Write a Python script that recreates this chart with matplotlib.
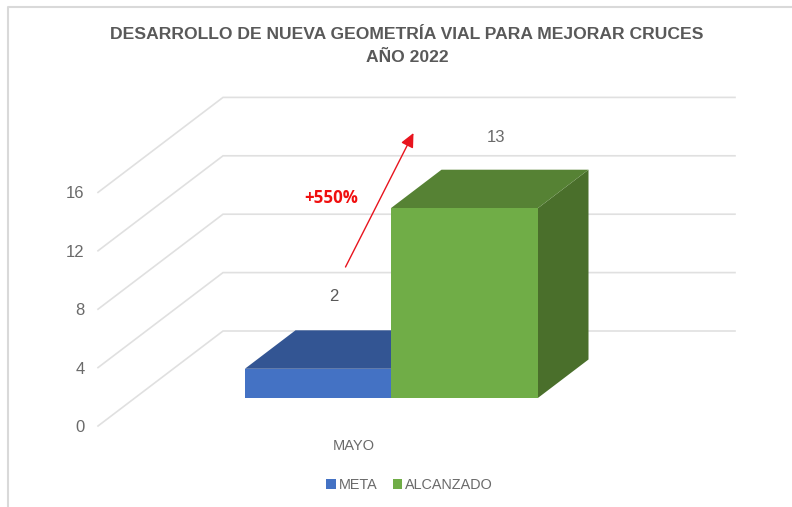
import matplotlib
matplotlib.use("Agg")
import matplotlib.pyplot as plt
from matplotlib.patches import Patch, Polygon
from matplotlib.lines import Line2D

title = "DESARROLLO DE NUEVA GEOMETRÍA VIAL PARA MEJORAR CRUCES\nAÑO 2022"
category = "MAYO"
series_names = ["META", "ALCANZADO"]
series_values = [2, 13]
y_ticks = [0, 4, 8, 12, 16]
note = "+550%"

front_colors = ["#4472C4", "#70AD47"]
top_colors = ["#335593", "#568234"]
side_colors = ["#2F5597", "#4A6F2B"]
text_color = "#6a6a6a"

plt.rcParams["font.family"] = ["Liberation Sans", "DejaVu Sans"]

fig = plt.figure(figsize=(7.92, 5.07), dpi=100)
ax = fig.add_axes([0, 0, 1, 1])

# x is in pixels, y is in chart values, so bars go through the y scale
px_per_unit = 14.6
ax.set_xlim(0, 792)
ax.set_ylim(-(507 - 426) / px_per_unit, 426 / px_per_unit)
for s in ax.spines.values():
    s.set_visible(False)
ax.set_xticks([])
ax.set_yticks(y_ticks)
ax.tick_params(axis="y", length=0, pad=-61, labelsize=12, labelcolor=text_color)

# oblique projection for depth
depth_x = 125
depth_y = 95 / px_per_unit


def project(x, v, d):
    return x + depth_x * d, v + depth_y * d


# gridlines: side wall + back wall
for t in y_ticks:
    x0, y0 = project(98, t, 0)
    x1, y1 = project(98, t, 1)
    ax.plot([x0, x1, 735], [y0, y1, y1], color="#e0e0e0", lw=1.2, zorder=1,
            solid_joinstyle="miter")

d_front = 0.295
d_back = 0.70
bar_left = [208, 354]
bar_right = [354, 501]

for i, val in enumerate(series_values):
    l, r = bar_left[i], bar_right[i]
    a = project(l, 0, d_front)
    b = project(r, 0, d_front)
    c = project(r, val, d_front)
    e = project(l, val, d_front)
    f = project(l, val, d_back)
    g = project(r, val, d_back)
    h = project(r, 0, d_back)
    z = 3 + i
    ax.add_patch(Polygon([b, h, g, c], closed=True, fc=side_colors[i], ec="none", zorder=z))
    ax.add_patch(Polygon([e, c, g, f], closed=True, fc=top_colors[i], ec="none", zorder=z))
    ax.add_patch(Polygon([a, b, c, e], closed=True, fc=front_colors[i], ec="none", zorder=z))

ax.text(334, (426 - 296.5) / px_per_unit, str(series_values[0]), ha="center", va="center",
        fontsize=12, color="#595959")
ax.text(496.5, (426 - 138) / px_per_unit, str(series_values[1]), ha="center", va="center",
        fontsize=12, color="#6a6a6a")

# red growth arrow and its label
ax.annotate("", xy=(413.5, (426 - 133) / px_per_unit), xytext=(345.5, (426 - 267) / px_per_unit),
            arrowprops=dict(arrowstyle="-|>,head_length=0.85,head_width=0.4", color="#e8141e",
                            lw=1, shrinkA=0, shrinkB=0), zorder=6)
ax.text(331, (426 - 198) / px_per_unit, note, ha="center", va="center", fontsize=12.2,
        fontweight="bold", color="#f00f0f", family=["Open Sans", "DejaVu Sans"])

ax.text(353.5, (426 - 446) / px_per_unit, category, ha="center", va="center",
        fontsize=10.5, color=text_color)

ax.text(407, (426 - 46) / px_per_unit, title, ha="center", va="center", fontsize=12.6,
        fontweight="bold", color="#595959", linespacing=1.6)

handles = [Patch(fc=front_colors[0], ec="none"), Patch(fc=front_colors[1], ec="none")]
ax.legend(handles, series_names, loc="center", bbox_to_anchor=(409.5 / 792, 1 - 485 / 507),
          ncol=2, frameon=False, fontsize=10.4, labelcolor=text_color, handlelength=0.65,
          handleheight=0.65, handletextpad=0.2, columnspacing=1.05, borderpad=0)

# outer chart border
ax.add_line(Line2D([8, 8, 792], [-5.6, (426 - 6.5) / px_per_unit, (426 - 6.5) / px_per_unit],
                   color="#d9d9d9", lw=1.5, zorder=1))

fig.savefig("out.png", dpi=100)
